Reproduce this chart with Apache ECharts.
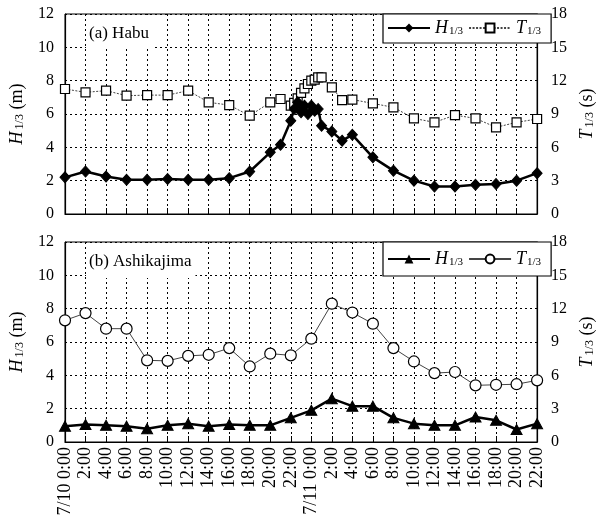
<!DOCTYPE html>
<html><head><meta charset="utf-8">
<script src="https://cdn.jsdelivr.net/npm/echarts@6/dist/echarts.min.js"></script>
<style>html,body{margin:0;padding:0;background:#fff}#c{width:604px;height:527px}</style>
</head><body><div id="c"></div>
<script>
// x tick labels (every 2 h from 7/10 0:00 to 7/11 22:00)
const xTickLabels = ['7/10 0:00','2:00','4:00','6:00','8:00','10:00','12:00','14:00','16:00','18:00','20:00','22:00',
  '7/11 0:00','2:00','4:00','6:00','8:00','10:00','12:00','14:00','16:00','18:00','20:00','22:00'];
// (a) Habu : hours since 7/10 0:00
const habuTime = [0,2,4,6,8,10,12,14,16,18,20,21,22,22.33,22.67,23,23.33,23.67,24,24.33,24.67,25,26,27,28,30,32,34,36,38,40,42,44,46];
const habuH = [2.2,2.55,2.25,2.05,2.05,2.1,2.05,2.05,2.15,2.55,3.7,4.15,5.6,6.3,6.7,6.1,6.5,6.0,6.5,6.2,6.3,5.3,4.95,4.4,4.75,3.4,2.6,2.0,1.65,1.65,1.75,1.8,2.0,2.45];
const habuT = [11.25,10.95,11.1,10.65,10.7,10.7,11.1,10.05,9.8,8.85,10.05,10.35,9.75,10.0,10.4,10.9,11.3,11.7,12.0,12.1,12.3,12.3,11.4,10.25,10.3,9.95,9.6,8.6,8.25,8.9,8.6,7.8,8.25,8.55];
// (b) Ashikajima
const ashiTime = [0,2,4,6,8,10,12,14,16,18,20,22,24,26,28,30,32,34,36,38,40,42,44,46];
const ashiH = [0.95,1.05,1.0,0.95,0.8,1.0,1.1,0.95,1.05,1.0,1.0,1.45,1.9,2.6,2.15,2.15,1.45,1.1,1.0,1.0,1.5,1.3,0.75,1.1];
const ashiT = [10.95,11.6,10.2,10.2,7.35,7.3,7.75,7.85,8.45,6.8,7.95,7.8,9.3,12.45,11.65,10.65,8.45,7.25,6.2,6.3,5.1,5.15,5.2,5.55];
const hTicks = {min:0,max:12,interval:2};
const tTicks = {min:0,max:18,interval:3};

const FONT = "'Liberation Serif','DejaVu Serif',serif";
const pairs = (xs, ys) => xs.map((x,i)=>[x,ys[i]]);
const grids = [
  {left:63, top:14, width:489, height:200, show:true, borderColor:'#000', borderWidth:1},
  {left:63, top:242, width:489, height:200, show:true, borderColor:'#000', borderWidth:1}
];
const dotted = {color:'#000', width:1, type:[2,3]};
function xAxis(i, labels){
  return {type:'value', gridIndex:i, min:0, max:46, interval:2,
    axisLine:{show:true, lineStyle:{color:'#000', width:1.2}},
    axisTick:{show:true, inside:true, length:6, lineStyle:{color:'#000'}},
    splitLine:{show:true, lineStyle:dotted},
    axisLabel:{show:labels, rotate:90, margin:5, color:'#000', fontFamily:FONT, fontSize:18,
      formatter:(v)=>xTickLabels[Math.round(v/2)]}
  };
}
const richName = {
  i:{fontFamily:FONT, fontStyle:'italic', fontSize:18, color:'#000'},
  s:{fontFamily:FONT, fontSize:12, color:'#000', padding:[6,0,0,2]},
  n:{fontFamily:FONT, fontSize:18, color:'#000'}
};
function yLeft(i){
  return {type:'value', gridIndex:i, position:'left', ...hTicks,
    name:'{i|H}{s|1/3}{n| (m)}', nameLocation:'middle', nameRotate:90, nameGap:39,
    nameTextStyle:{rich:richName},
    axisLine:{show:true, lineStyle:{color:'#000', width:1.2}}, axisTick:{show:false},
    splitLine:{show:true, lineStyle:dotted},
    axisLabel:{color:'#000', fontFamily:FONT, fontSize:16, margin:11}
  };
}
function yRight(i){
  return {type:'value', gridIndex:i, position:'right', ...tTicks,
    name:'{i|T}{s|1/3}{n| (s)}', nameLocation:'middle', nameRotate:90, nameGap:36,
    nameTextStyle:{rich:richName},
    axisLine:{show:true, lineStyle:{color:'#000', width:1.2}}, axisTick:{show:false},
    splitLine:{show:false},
    axisLabel:{color:'#000', fontFamily:FONT, fontSize:16, margin:14}
  };
}
const legRich = {
  i:{fontFamily:FONT, fontStyle:'italic', fontSize:18, color:'#000'},
  s:{fontFamily:FONT, fontSize:11, color:'#000', padding:[7,0,0,1]}
};
const option = {
  animation:false,
  backgroundColor:'#fff',
  title:[
    {text:'(a) Habu', left:86, top:15, backgroundColor:'#fff', padding:[10,4,7,3],
      textStyle:{fontFamily:FONT, fontSize:17, fontWeight:'normal', color:'#000'}},
    {text:'(b) Ashikajima', left:86, top:243, backgroundColor:'#fff', padding:[10,4,8,3],
      textStyle:{fontFamily:FONT, fontSize:17, fontWeight:'normal', color:'#000'}}
  ],
  grid:grids,
  xAxis:[xAxis(0,false), xAxis(1,true)],
  yAxis:[yLeft(0), yRight(0), yLeft(1), yRight(1)],
  legend:[
    {data:['Habu H','Habu T'], left:383, top:14, backgroundColor:'#fff', borderColor:'#000', borderWidth:1.2,
      padding:[5,10,6,4], itemWidth:42, itemHeight:11, itemGap:5,
      formatter:(n)=> n.endsWith('H') ? '{i|H}{s|1/3}' : '{i|T}{s|1/3}',
      textStyle:{rich:legRich}},
    {data:['Ashi H','Ashi T'], left:383, top:242, backgroundColor:'#fff', borderColor:'#000', borderWidth:1.2,
      padding:[8,10,8,4], itemWidth:42, itemHeight:11, itemGap:5,
      formatter:(n)=> n.endsWith('H') ? '{i|H}{s|1/3}' : '{i|T}{s|1/3}',
      textStyle:{rich:legRich}}
  ],
  series:[
    {name:'Habu T', type:'line', xAxisIndex:0, yAxisIndex:1, data:pairs(habuTime, habuT),
      symbol:'rect', symbolSize:9, showAllSymbol:true,
      lineStyle:{color:'#444', width:1, type:[2,1.5]},
      itemStyle:{color:'#fff', borderColor:'#000', borderWidth:1.2}, z:3},
    {name:'Habu H', type:'line', xAxisIndex:0, yAxisIndex:0, data:pairs(habuTime, habuH),
      symbol:'diamond', symbolSize:[10,11], showAllSymbol:true,
      lineStyle:{color:'#000', width:2.5},
      itemStyle:{color:'#000', borderColor:'#000'}, z:4},
    {name:'Ashi T', type:'line', xAxisIndex:1, yAxisIndex:3, data:pairs(ashiTime, ashiT),
      symbol:'circle', symbolSize:11, showAllSymbol:true,
      lineStyle:{color:'#444', width:1},
      itemStyle:{color:'#fff', borderColor:'#000', borderWidth:1.2}, z:3},
    {name:'Ashi H', type:'line', xAxisIndex:1, yAxisIndex:2, data:pairs(ashiTime, ashiH),
      symbol:'triangle', symbolSize:[11,10], showAllSymbol:true,
      lineStyle:{color:'#000', width:2.5},
      itemStyle:{color:'#000', borderColor:'#000'}, z:4}
  ]
};
const chart = echarts.init(document.getElementById('c'), null, {renderer:'canvas'});
chart.setOption(option);
</script></body></html>
